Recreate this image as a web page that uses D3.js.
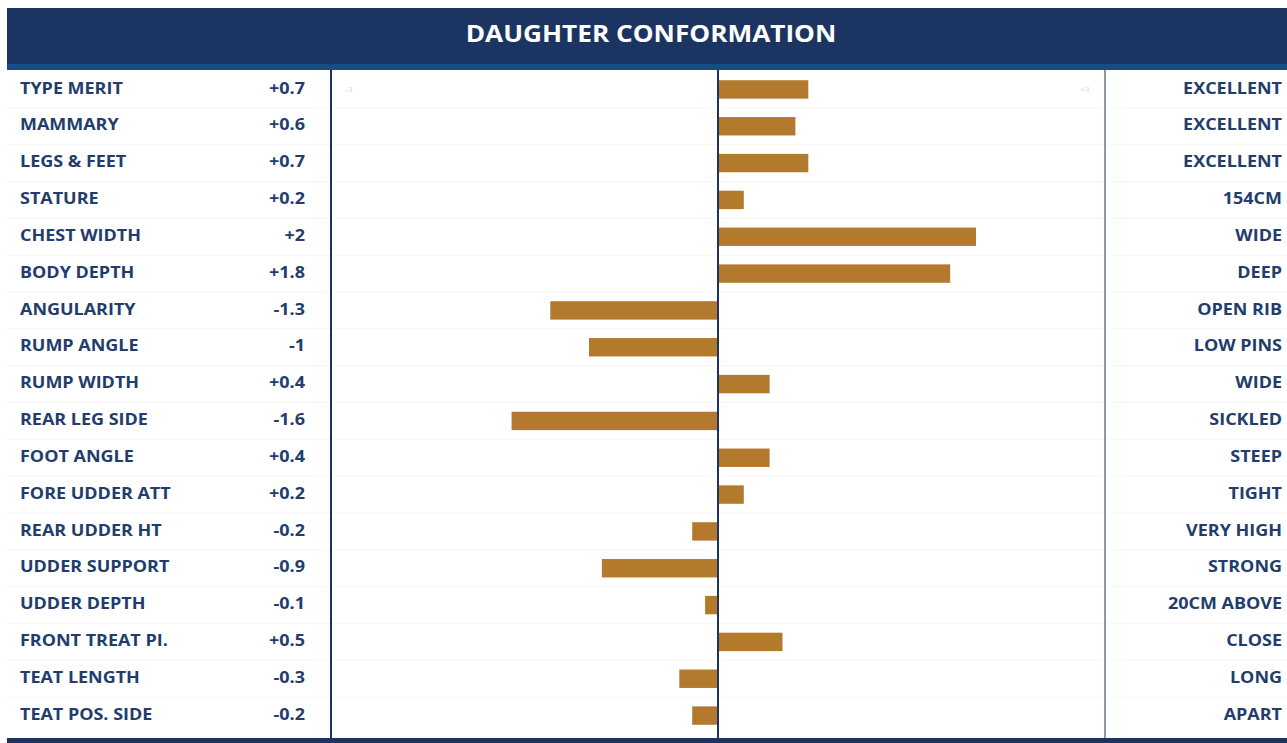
<!DOCTYPE html>
<html>
<head>
<meta charset="utf-8">
<script src="https://cdn.jsdelivr.net/npm/d3@7"></script>
<style>
  body { margin: 0; background: #fff; }
  svg { display: block; font-family: "Open Sans", "Noto Sans", sans-serif; }
</style>
</head>
<body>
<div id="chart"></div>
<script>
const traits = ['TYPE MERIT', 'MAMMARY', 'LEGS & FEET', 'STATURE', 'CHEST WIDTH', 'BODY DEPTH',
  'ANGULARITY', 'RUMP ANGLE', 'RUMP WIDTH', 'REAR LEG SIDE', 'FOOT ANGLE', 'FORE UDDER ATT',
  'REAR UDDER HT', 'UDDER SUPPORT', 'UDDER DEPTH', 'FRONT TREAT PI.', 'TEAT LENGTH', 'TEAT POS. SIDE'];

const values = [0.7, 0.6, 0.7, 0.2, 2, 1.8, -1.3, -1, 0.4, -1.6, 0.4, 0.2, -0.2, -0.9, -0.1, 0.5, -0.3, -0.2];

const descriptors = ['EXCELLENT', 'EXCELLENT', 'EXCELLENT', '154CM', 'WIDE', 'DEEP', 'OPEN RIB',
  'LOW PINS', 'WIDE', 'SICKLED', 'STEEP', 'TIGHT', 'VERY HIGH', 'STRONG', '20CM ABOVE', 'CLOSE',
  'LONG', 'APART'];

const scaleEnds = [-3, 3];

const width = 1287;
const height = 743;
const navy = '#1c3461';
const textColor = '#223d6b';
const barColor = '#b37a2e';
const stretch = 1.16; // the original lettering is a bit wider than Open Sans

const svg = d3.select('#chart').append('svg')
    .attr('width', width)
    .attr('height', height);

const x = d3.scaleLinear()
    .domain(scaleEnds)
    .range([331, 1105]);

const y = d3.scaleBand()
    .domain(d3.range(traits.length))
    .range([71, 734])
    .paddingInner(0.5)
    .paddingOuter(0.25);

const step = y.step();

// header
svg.append('rect')
    .attr('x', 7)
    .attr('y', 8)
    .attr('width', width - 7)
    .attr('height', 58)
    .attr('fill', navy);

svg.append('rect')
    .attr('x', 7)
    .attr('y', 64)
    .attr('width', width - 7)
    .attr('height', 6)
    .attr('fill', '#1b4b86');

svg.append('text')
    .attr('transform', 'translate(651,36) scale(1.14,1)')
    .attr('text-anchor', 'middle')
    .attr('dominant-baseline', 'middle')
    .attr('fill', '#fff')
    .attr('font-weight', 700)
    .attr('font-size', 23)
    .text('DAUGHTER CONFORMATION');

// row separators
svg.selectAll('.sep')
  .data(d3.range(1, traits.length))
  .join('line')
    .attr('class', 'sep')
    .attr('x1', 7)
    .attr('x2', width)
    .attr('y1', d => y(d) - (step - y.bandwidth()) / 2)
    .attr('y2', d => y(d) - (step - y.bandwidth()) / 2)
    .attr('stroke', '#f6f6f6')
    .attr('stroke-width', 1);

// faint scale ends
svg.selectAll('.end')
  .data(scaleEnds)
  .join('text')
    .attr('class', 'end')
    .attr('x', (d, i) => x(d) + (i === 0 ? 18 : -20))
    .attr('y', y(0) + y.bandwidth() / 2)
    .attr('text-anchor', 'middle')
    .attr('dominant-baseline', 'middle')
    .attr('font-size', 8)
    .attr('fill', '#d8d8d8')
    .text(d => d > 0 ? '+' + d : d);

// bars
svg.selectAll('.bar')
  .data(values)
  .join('rect')
    .attr('class', 'bar')
    .attr('x', d => x(Math.min(0, d)))
    .attr('y', (d, i) => y(i))
    .attr('width', d => Math.abs(x(d) - x(0)))
    .attr('height', y.bandwidth())
    .attr('fill', barColor);

// panel lines
svg.append('line')
    .attr('x1', x(scaleEnds[0])).attr('x2', x(scaleEnds[0]))
    .attr('y1', 70).attr('y2', 738)
    .attr('stroke', navy).attr('stroke-width', 2);

svg.append('line')
    .attr('x1', x(0)).attr('x2', x(0))
    .attr('y1', 70).attr('y2', 743)
    .attr('stroke', navy).attr('stroke-width', 2);

svg.append('line')
    .attr('x1', x(scaleEnds[1])).attr('x2', x(scaleEnds[1]))
    .attr('y1', 70).attr('y2', 738)
    .attr('stroke', '#8d9aab').attr('stroke-width', 2);

// labels
const rows = svg.selectAll('.row')
  .data(traits)
  .join('g')
    .attr('class', 'row')
    .attr('transform', (d, i) => `translate(0,${y(i) + y.bandwidth() / 2})`)
    .attr('font-weight', 700)
    .attr('font-size', 15.5)
    .attr('fill', textColor);

rows.append('text')
    .attr('transform', `translate(20,0) scale(${stretch},1)`)
    .attr('dominant-baseline', 'middle')
    .text(d => d);

rows.append('text')
    .attr('transform', `translate(305,0) scale(${stretch},1)`)
    .attr('text-anchor', 'end')
    .attr('dominant-baseline', 'middle')
    .text((d, i) => values[i] > 0 ? '+' + values[i] : String(values[i]));

rows.append('text')
    .attr('transform', `translate(1282,0) scale(${stretch},1)`)
    .attr('text-anchor', 'end')
    .attr('dominant-baseline', 'middle')
    .text((d, i) => descriptors[i]);

// bottom band
svg.append('rect')
    .attr('x', 7)
    .attr('y', 738)
    .attr('width', width - 7)
    .attr('height', 5)
    .attr('fill', navy);
</script>
</body>
</html>
